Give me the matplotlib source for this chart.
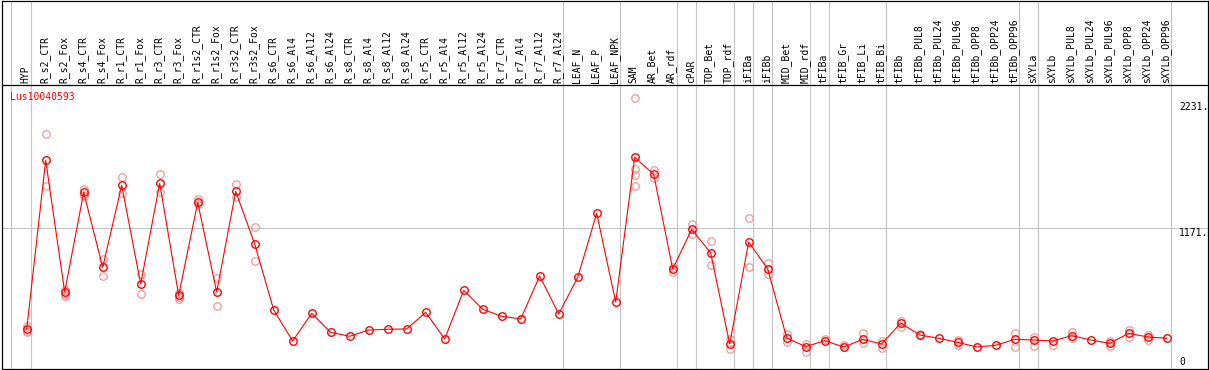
import matplotlib
matplotlib.use("Agg")
import matplotlib.pyplot as plt

title = "Lus10040593"
categories = [
    "HYP", "R_s2_CTR", "R_s2_Fox", "R_s4_CTR", "R_s4_Fox", "R_r1_CTR", "R_r1_Fox",
    "R_r3_CTR", "R_r3_Fox", "R_r1s2_CTR", "R_r1s2_Fox", "R_r3s2_CTR", "R_r3s2_Fox",
    "R_s6_CTR", "R_s6_Al4", "R_s6_Al12", "R_s6_Al24", "R_s8_CTR", "R_s8_Al4",
    "R_s8_Al12", "R_s8_Al24", "R_r5_CTR", "R_r5_Al4", "R_r5_Al12", "R_r5_Al24",
    "R_r7_CTR", "R_r7_Al4", "R_r7_Al12", "R_r7_Al24", "LEAF_N", "LEAF_P", "LEAF_NPK",
    "SAM", "AR_Bet", "AR_rdf", "cPAR", "TOP_Bet", "TOP_rdf", "iFIBa", "iFIBb",
    "MID_Bet", "MID_rdf", "tFIBa", "tFIB_Gr", "tFIB_Li", "tFIB_Bi", "tFIBb",
    "tFIBb_PUL8", "tFIBb_PUL24", "tFIBb_PUL96", "tFIBb_OPP8", "tFIBb_OPP24",
    "tFIBb_OPP96", "sXYLa", "sXYLb", "sXYLb_PUL8", "sXYLb_PUL24", "sXYLb_PUL96",
    "sXYLb_OPP8", "sXYLb_OPP24", "sXYLb_OPP96",
]

mean_values = [
    317, 1745, 632, 1475, 841, 1534, 700, 1551, 604, 1390, 632, 1483, 1038,
    480, 218, 452, 291, 258, 311, 317, 320, 460, 235, 646, 486, 427, 404, 768, 446,
    756, 1297, 548,
    1771, 1627, 827, 1162, 962, 193, 1055, 827, 244, 170,
    221, 167, 232, 193, 370, 269, 241, 207, 167, 182, 232,
    227, 218, 263, 227, 198, 283, 252, 241,
]

replicate_values = [
    [345, 305, 297], [1968, 1531], [649, 615, 598], [1503, 1455, 1444], [911, 765],
    [1602, 1472], [784, 613], [1630, 1475], [621, 587, 576], [1418, 1373],
    [748, 511], [1545, 1438], [1179, 892],
    [], [], [], [], [], [], [], [], [], [], [], [], [], [], [], [],
    [], [], [],
    [2269, 1672, 1619, 1531], [1664, 1592], [841, 799], [1207, 1120], [1061, 861],
    [232, 148], [1258, 841], [875, 782], [277, 210], [193, 128],
    [232], [187], [286, 198], [221, 162], [390, 336], [274], [], [224, 184], [], [],
    [286, 170],
    [255, 176], [187], [297, 244], [], [221, 176], [311, 255], [272, 227], [],
]

y_tick_values = [0, 1171, 2231]
y_tick_labels = ["0", "1171.", "2231."]
group_boundaries = [-1, 0, 28, 31, 34, 35, 37, 38, 39, 41, 42, 45, 52, 53, 60]

# ---- pixel geometry helpers ----
W, H = 1209, 370
X0, DX = 26.7, 19.0          # pixel x of first category, spacing
Y0, SY = 366.8, 0.1183       # pixel y of value 0, pixels per unit


def vy(py):
    return (Y0 - py) / SY


def ix(px):
    return (px - X0) / DX


fig = plt.figure(figsize=(W / 100, H / 100), dpi=100)
left_px, right_px, top_px, bot_px = 1.5, 1207.5, 0.5, 369.3
ax = fig.add_axes([left_px / W, (H - bot_px) / H, (right_px - left_px) / W, (bot_px - top_px) / H])
ax.set_xlim(ix(left_px), ix(right_px))
ax.set_ylim(vy(bot_px), vy(top_px))
ax.set_xticks([])
ax.set_yticks([])
for s in ax.spines.values():
    s.set_color("black")
    s.set_linewidth(0.9)

grid_c = "#c4c4c4"
ax.axhline(1171, color=grid_c, lw=0.8, zorder=1)
for b in group_boundaries:
    ax.axvline(b + 0.2, color=grid_c, lw=0.8, zorder=1)
ax.axhline(vy(85), color="black", lw=0.9, zorder=2)

xs = list(range(len(categories)))
rx, ry = [], []
for i, reps in enumerate(replicate_values):
    for r in reps:
        rx.append(i)
        ry.append(r)
ax.plot(rx, ry, linestyle="none", marker="o", markersize=5.4, markerfacecolor="none",
        markeredgecolor="#f09898", markeredgewidth=0.9, zorder=3, clip_on=False)
ax.plot(xs, mean_values, color="#ff0000", lw=0.8, marker="o", markersize=5.4,
        markerfacecolor="none", markeredgecolor="#ff0000", markeredgewidth=1.0, zorder=4)

mono = "DejaVu Sans Mono"
for i, c in enumerate(categories):
    ax.text(i - 0.05, vy(83), c, rotation=90, ha="center", va="bottom",
            fontsize=7, family=mono, color="black")

ax.text(ix(10), vy(97), title, ha="left", va="center", fontsize=7, family=mono, color="#ff0000")

label_px = {0: 361.7, 1171: 232.7, 2231: 107.3}
for v, lab in zip(y_tick_values, y_tick_labels):
    ax.text(ix(1179), vy(label_px[v]), lab, ha="left", va="center", fontsize=7,
            family=mono, color="black")

fig.savefig("out.png", dpi=100)
